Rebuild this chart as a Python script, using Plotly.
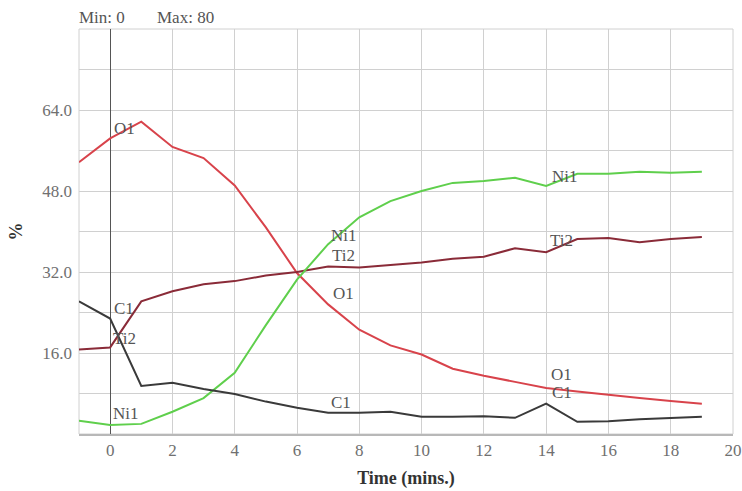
import plotly.graph_objects as go

time = [-1, 0, 1, 2, 3, 4, 5, 6, 7, 8, 9, 10, 11, 12, 13, 14, 15, 16, 17, 18, 19]
o1 = [53.7, 58.4, 61.7, 56.7, 54.5, 49.1, 40.8, 31.8, 25.6, 20.6, 17.5, 15.7, 12.9, 11.5, 10.3, 9.1, 8.4, 7.7, 7.1, 6.5, 6.0]
ti2 = [16.7, 17.1, 26.2, 28.2, 29.6, 30.2, 31.3, 32.0, 33.1, 32.9, 33.4, 33.9, 34.6, 35.0, 36.7, 35.9, 38.5, 38.7, 37.9, 38.5, 38.9]
ni1 = [2.6, 1.8, 2.0, 4.4, 7.1, 12.1, 21.5, 30.5, 37.5, 42.8, 46.0, 48.0, 49.6, 50.0, 50.6, 49.0, 51.4, 51.4, 51.8, 51.6, 51.8]
c1 = [26.2, 22.8, 9.5, 10.1, 8.9, 7.9, 6.4, 5.2, 4.2, 4.2, 4.4, 3.4, 3.4, 3.5, 3.2, 6.0, 2.4, 2.5, 2.9, 3.2, 3.4]

y_ticks = [0, 8, 16, 24, 32, 40, 48, 56, 64, 72, 80]
y_ticktext = ["", "", "16.0", "", "32.0", "", "48.0", "", "64.0", "", ""]
x_ticks = [0, 2, 4, 6, 8, 10, 12, 14, 16, 18, 20]

series = [
    ("O1", o1, "#d8434b"),
    ("Ti2", ti2, "#8a2b38"),
    ("Ni1", ni1, "#5fcf4c"),
    ("C1", c1, "#3a3a3a"),
]

SERIF = "Liberation Serif"

fig = go.Figure()
for name, vals, col in series:
    fig.add_trace(go.Scatter(x=time, y=vals, mode="lines", name=name,
                             line=dict(color=col, width=2)))

labels = [
    ("O1", 0.45, 60.3), ("C1", 0.45, 24.8), ("Ti2", 0.45, 18.8), ("Ni1", 0.5, 4.0),
    ("Ni1", 7.5, 39.3), ("Ti2", 7.5, 35.3), ("O1", 7.5, 27.8), ("C1", 7.4, 6.2),
    ("Ni1", 14.6, 50.8), ("Ti2", 14.5, 38.3), ("O1", 14.5, 11.7), ("C1", 14.5, 8.1),
]
for t, x, y in labels:
    fig.add_annotation(x=x, y=y, text=t, showarrow=False,
                       font=dict(family=SERIF, size=17, color="#555555"))

fig.add_annotation(xref="x", yref="paper", x=-1, y=1.0, yanchor="bottom",
                   xanchor="left", yshift=0, xshift=-2,
                   text="Min: 0", showarrow=False,
                   font=dict(family=SERIF, size=17, color="#555555"))
fig.add_annotation(xref="x", yref="paper", x=1.5, y=1.0, yanchor="bottom",
                   xanchor="left", yshift=0, xshift=-2,
                   text="Max: 80", showarrow=False,
                   font=dict(family=SERIF, size=17, color="#555555"))

fig.update_layout(
    width=742, height=491,
    margin=dict(l=79, r=9, t=29, b=57, autoexpand=False),
    paper_bgcolor="white", plot_bgcolor="white",
    showlegend=False,
    font=dict(family=SERIF, color="#666666"),
    xaxis=dict(range=[-1, 20], tickvals=x_ticks, showgrid=True,
               gridcolor="#d0d0d0", gridwidth=1,
               zeroline=True, zerolinecolor="#555555", zerolinewidth=1.3,
               showline=True, linecolor="#b8b8b8", linewidth=2, mirror=False,
               tickfont=dict(size=17, color="#707070"),
               title=dict(text="<b>Time (mins.)</b>", standoff=12,
                          font=dict(size=18, color="#333333"))),
    yaxis=dict(range=[0, 80], tickvals=y_ticks, ticktext=y_ticktext,
               showgrid=True, gridcolor="#d0d0d0", gridwidth=1,
               zeroline=False, showline=False,
               ticklabelstandoff=6,
               tickfont=dict(size=17, color="#707070"),
               title=dict(text="<b>%</b>", standoff=14,
                          font=dict(size=18, color="#333333"))),
)
fig.add_shape(type="rect", xref="paper", yref="paper", x0=0, x1=1, y0=0, y1=1,
              line=dict(color="#d0d0d0", width=1), layer="below")

fig.write_html("out.html", config={"displayModeBar": False})

with open("out.html", "r", encoding="utf-8") as f:
    html = f.read()
html = html.replace("<body>", '<body style="margin:0;padding:0">', 1)
with open("out.html", "w", encoding="utf-8") as f:
    f.write(html)
